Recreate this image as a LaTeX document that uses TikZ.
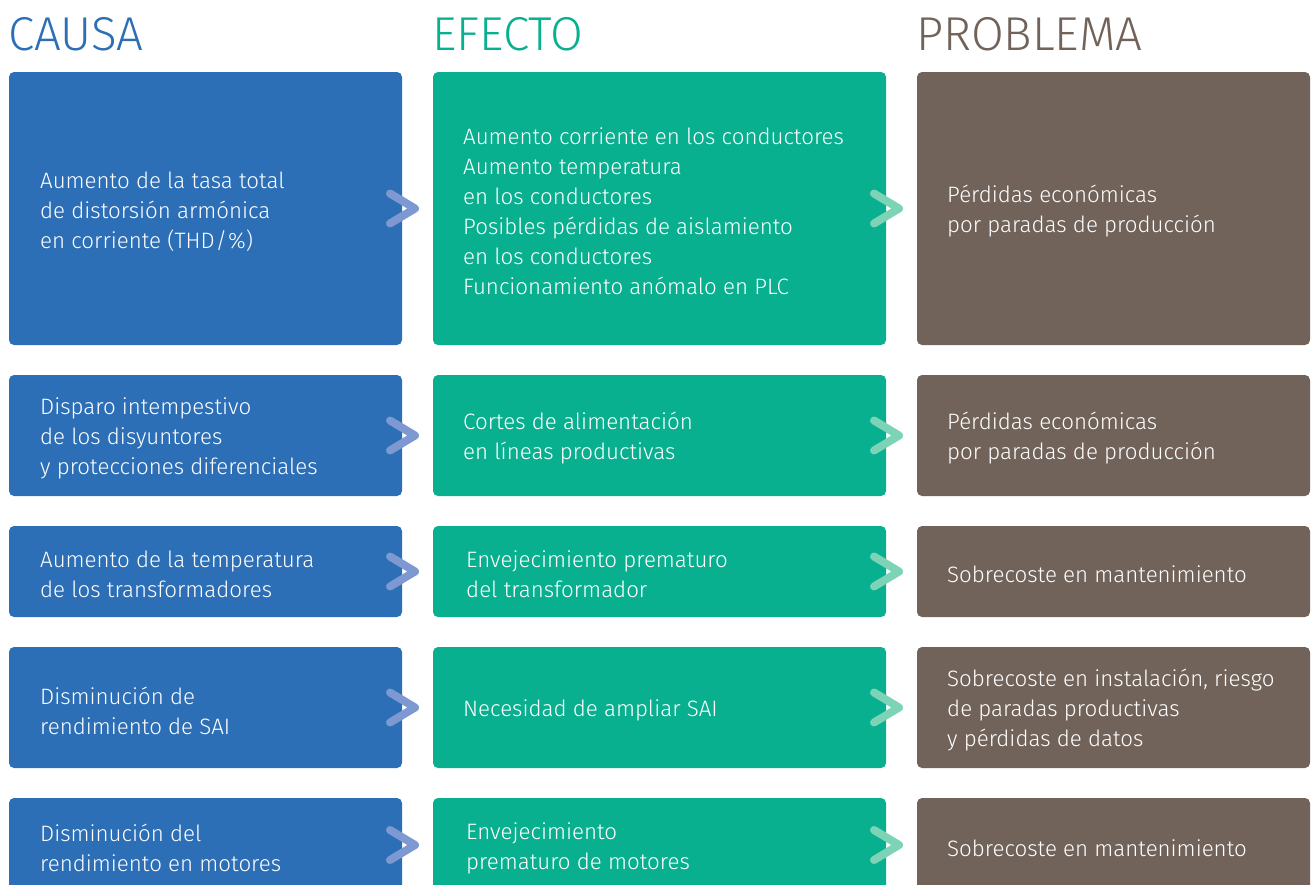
\documentclass[tikz,border=0pt]{standalone}
\usepackage{fontspec}
\setmainfont{Fira Sans Light}
\definecolor{causa}{HTML}{2C6FB7}
\definecolor{efecto}{HTML}{09B08F}
\definecolor{problema}{HTML}{71635A}
\definecolor{chevb}{HTML}{7E98D2}
\definecolor{chevg}{HTML}{7DD3B5}
\tikzset{
  box/.style={anchor=north west, inner sep=0pt, outer sep=0pt, rounded corners=5pt, minimum height=#1},
  bcol/.style={box=#1, fill=causa, minimum width=393pt},
  gcol/.style={box=#1, fill=efecto, minimum width=453pt},
  pcol/.style={box=#1, fill=problema, minimum width=393pt},
  txt/.style={anchor=west, align=left, text=white, inner sep=0pt, yshift=-3pt, font=\fontsize{22.3}{30}\selectfont},
  head/.style={anchor=base west, inner sep=0pt, font=\fontsize{47.5}{50}\selectfont},
  chev/.style={line width=8pt, line cap=round, line join=round},
}
\begin{document}
\begin{tikzpicture}[x=1pt,y=-1pt]
\useasboundingbox (0,0) rectangle (1311,884);
\clip (0,0) rectangle (1311,884);
% headers
\node[head, text=causa] (hc) at (8,50) {CAUSA};
\node[head, text=efecto] (he) at (432,50) {EFECTO};
\node[head, text=problema] (hp) at (916,50) {PROBLEMA};
% row 1
\node[bcol=273pt] (c1) at (9,72) {};
\node[gcol=273pt] (e1) at (433,72) {};
\node[pcol=273pt] (p1) at (917,72) {};
% row 2
\node[bcol=121pt] (c2) at (9,375) {};
\node[gcol=121pt] (e2) at (433,375) {};
\node[pcol=121pt] (p2) at (917,375) {};
% row 3
\node[bcol=91pt] (c3) at (9,526) {};
\node[gcol=91pt] (e3) at (433,526) {};
\node[pcol=91pt] (p3) at (917,526) {};
% row 4
\node[bcol=121pt] (c4) at (9,647) {};
\node[gcol=121pt] (e4) at (433,647) {};
\node[pcol=121pt] (p4) at (917,647) {};
% row 5
\node[bcol=94pt] (c5) at (9,798) {};
\node[gcol=94pt] (e5) at (433,798) {};
\node[pcol=94pt] (p5) at (917,798) {};
% texts
\node[txt] (tc1) at ([xshift=31pt]c1.west) {Aumento de la tasa total\\de distorsión armónica\\en corriente (THD\kern1pt/\kern1pt\%)};
\node[txt] (te1) at ([xshift=30pt]e1.west) {Aumento corriente en los conductores\\Aumento temperatura\\en los conductores\\Posibles pérdidas de aislamiento\\en los conductores\\Funcionamiento anómalo en PLC};
\node[txt] (tp1) at ([xshift=30pt]p1.west) {Pérdidas económicas\\por paradas de producción};
\node[txt] (tc2) at ([xshift=31pt]c2.west) {Disparo intempestivo\\de los disyuntores\\y protecciones diferenciales};
\node[txt] (te2) at ([xshift=30pt]e2.west) {Cortes de alimentación\\en líneas productivas};
\node[txt] (tp2) at ([xshift=30pt]p2.west) {Pérdidas económicas\\por paradas de producción};
\node[txt] (tc3) at ([xshift=31pt]c3.west) {Aumento de la temperatura\\de los transformadores};
\node[txt] (te3) at ([xshift=33pt]e3.west) {Envejecimiento prematuro\\del transformador};
\node[txt] (tp3) at ([xshift=30pt]p3.west) {Sobrecoste en mantenimiento};
\node[txt] (tc4) at ([xshift=31pt]c4.west) {Disminución de\\rendimiento de SAI};
\node[txt] (te4) at ([xshift=30pt]e4.west) {Necesidad de ampliar SAI};
\node[txt] (tp4) at ([xshift=30pt]p4.west) {Sobrecoste en instalación, riesgo\\de paradas productivas\\y pérdidas de datos};
\node[txt] (tc5) at ([xshift=31pt]c5.west) {Disminución del\\rendimiento en motores};
\node[txt] (te5) at ([xshift=33pt]e5.west) {Envejecimiento\\prematuro de motores};
\node[txt] (tp5) at ([xshift=30pt]p5.west) {Sobrecoste en mantenimiento};
% chevrons
\foreach \r in {1,...,5}{
  \draw[chev, chevb] ([shift={(-12,-15)}]c\r.east) -- ([shift={(13,0)}]c\r.east) -- ([shift={(-12,15)}]c\r.east);
  \draw[chev, chevg] ([shift={(-12,-15)}]e\r.east) -- ([shift={(13,0)}]e\r.east) -- ([shift={(-12,15)}]e\r.east);
}
\end{tikzpicture}
\end{document}
